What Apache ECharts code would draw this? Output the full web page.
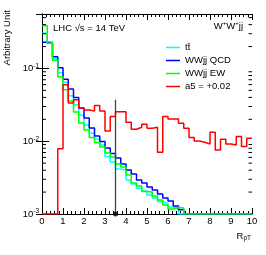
<!DOCTYPE html>
<html><head><meta charset="utf-8">
<script src="https://cdn.jsdelivr.net/npm/echarts@6/dist/echarts.min.js"></script>
<style>html,body{margin:0;padding:0;background:#fff}#c{width:266px;height:255px}</style>
</head><body><div id="c"></div>
<script>
// ---- data ----
const binLow = [0,0.25,0.5,0.75,1,1.25,1.5,1.75,2,2.25,2.5,2.75,3,3.25,3.5,3.75,4,4.25,4.5,4.75,
                5,5.25,5.5,5.75,6,6.25,6.5,6.75,7,7.25,7.5,7.75,8,8.25,8.5,8.75,9,9.25,9.5,9.75];
const binHigh = 10;
const seriesNames = ['t\u0074\u0304', 'WWjj QCD', 'WWjj EW', 'a5 = +0.02'];
// t tbar
const ttbar = [0.304,0.232,0.1355,0.087,0.0644,0.042,0.0316,0.023,0.01676,0.01301,
               0.01075,0.00889,0.00618,0.00519,0.00416,0.00403,0.00294,0.00259,0.00226,0.00207,
               0.00183,0.00166,0.00148,0.0014,0.00125,0.00118,0.001,0.001,0.001,0.001,
               0.001,0.001,0.001,0.001,0.001,0.001,0.001,0.001,0.001,0.001];
// WWjj QCD
const wwQCD = [0.2286,0.218,0.1444,0.1019,0.0708,0.0524,0.04,0.0287,0.0209,0.01524,
               0.01183,0.00994,0.00809,0.0068,0.00589,0.00487,0.00403,0.00355,0.00294,0.00267,
               0.00235,0.00214,0.00188,0.00166,0.00151,0.00129,0.00114,0.001,0.001,0.001,
               0.001,0.001,0.001,0.001,0.001,0.001,0.001,0.001,0.001,0.001];
// WWjj EW
const wwEW = [0.3855,0.2215,0.1292,0.0766,0.0508,0.0358,0.0253,0.01785,0.0143,0.01128,
              0.00963,0.00835,0.0069,0.00608,0.00487,0.00443,0.00344,0.00267,0.00243,0.00204,
              0.00201,0.00177,0.00156,0.00133,0.00117,0.00123,0.00121,0.001,0.001,0.001,
              0.001,0.001,0.001,0.001,0.001,0.001,0.001,0.001,0.001,0.001];
// a5 = +0.02
const a5 = [0.001,0.001,0.001,0.00791,0.0595,0.0336,0.037,0.0287,0.0269,0.0261,
            0.0309,0.0261,0.01386,0.0218,0.0255,0.0255,0.01825,0.01463,0.01558,0.01713,
            0.0151,0.01558,0.00706,0.0218,0.02026,0.02026,0.01769,0.0151,0.01121,0.0101,
            0.00969,0.00918,0.0133,0.00759,0.01065,0.00918,0.0089,0.01157,0.00843,0.011];
// vertical cut line
const cutX = 3.5;
const cutTop = 0.037;
// axis ticks
const yMin = 0.001, yMax = 0.56;
const xMin = 0, xMax = 10;
const yMinorTicks = [0.002,0.003,0.004,0.005,0.006,0.007,0.008,0.009,
                     0.02,0.03,0.04,0.05,0.06,0.07,0.08,0.09,
                     0.2,0.3,0.4,0.5];

const FONT = 'Liberation Sans, Arial, Helvetica, sans-serif';
const colors = ['#00ffff', '#0000ff', '#00ff00', '#ff0000'];
const allVals = [ttbar, wwQCD, wwEW, a5];

function steps(vals) {
  const d = vals.map((v, i) => [binLow[i], v]);
  d.push([binHigh, vals[vals.length - 1]]);
  return d;
}

const chart = echarts.init(document.getElementById('c'), null, {renderer: 'canvas'});

const histSeries = allVals.map((vals, k) => ({
  name: seriesNames[k],
  type: 'line',
  step: 'end',
  data: steps(vals),
  symbol: 'none',
  lineStyle: {color: colors[k], width: 1.5},
  itemStyle: {color: colors[k]},
  animation: false,
  z: 3 + k
}));

const option = {
  animation: false,
  backgroundColor: '#fff',
  grid: {left: 42, right: 14, top: 14, bottom: 41},
  xAxis: [{
    type: 'value', min: xMin, max: xMax, interval: 1,
    axisLine: {show: true, lineStyle: {color: '#000', width: 1}},
    axisTick: {show: true, inside: true, length: 6, lineStyle: {color: '#000'}},
    minorTick: {show: true, splitNumber: 5, length: 3, lineStyle: {color: '#000'}},
    splitLine: {show: false},
    axisLabel: {show: true, margin: 2, fontSize: 9.5, fontFamily: FONT, color: '#000'}
  }, {
    type: 'value', min: xMin, max: xMax, interval: 1, position: 'top',
    axisLine: {show: true, lineStyle: {color: '#000', width: 1}},
    axisTick: {show: true, inside: true, length: 6, lineStyle: {color: '#000'}},
    minorTick: {show: true, splitNumber: 5, length: 3, lineStyle: {color: '#000'}},
    splitLine: {show: false},
    axisLabel: {show: false}
  }],
  yAxis: [{
    type: 'log', logBase: 10, min: yMin, max: yMax,
    axisLine: {show: true, lineStyle: {color: '#000', width: 1}},
    axisTick: {show: true, inside: true, length: 7, lineStyle: {color: '#000'}},
    splitLine: {show: false},
    axisLabel: {
      show: true, margin: 3, showMaxLabel: false,
      formatter: function (v) {
        const e = Math.round(Math.log10(v));
        return '{a|10}{b|' + e + '}';
      },
      rich: {
        a: {fontSize: 9.5, fontFamily: FONT, color: '#000', lineHeight: 12},
        b: {fontSize: 6.5, fontFamily: FONT, color: '#000', lineHeight: 7, verticalAlign: 'top'}
      }
    }
  }, {
    type: 'log', logBase: 10, min: yMin, max: yMax, position: 'right',
    axisLine: {show: true, lineStyle: {color: '#000', width: 1}},
    axisTick: {show: true, inside: true, length: 6, lineStyle: {color: '#000'}},
    splitLine: {show: false},
    axisLabel: {show: false}
  }],
  legend: {
    data: seriesNames,
    icon: 'rect',
    orient: 'vertical', left: 161, top: 37,
    itemWidth: 14, itemHeight: 1.5, itemGap: 2,
    selectedMode: false,
    textStyle: {fontSize: 9.5, fontFamily: FONT, color: '#000', lineHeight: 11}
  },
  graphic: [
    {type: 'text', x: 7.5, y: 10, rotation: Math.PI / 2,
     style: {text: 'Arbitrary Unit', fontSize: 9.5, fontFamily: FONT, fill: '#000',
             align: 'right', verticalAlign: 'middle'}},
    {type: 'text', x: 53, y: 28,
     style: {text: 'LHC \u221As = 14 TeV', fontSize: 9.5, fontFamily: FONT, fill: '#000',
             align: 'left', verticalAlign: 'middle'}},
    {type: 'text', x: 243, y: 26,
     style: {text: '{a|W}{s|+}{a|W}{s|+}{a|jj}', align: 'right', verticalAlign: 'middle',
             rich: {a: {fontSize: 9.5, fontFamily: FONT, fill: '#000', lineHeight: 12},
                    s: {fontSize: 6, fontFamily: FONT, fill: '#000', lineHeight: 7, verticalAlign: 'top'}}}},
    {type: 'text', x: 251, y: 236,
     style: {text: '{a|R}{s|pT}', align: 'right', verticalAlign: 'middle',
             rich: {a: {fontSize: 9.5, fontFamily: FONT, fill: '#000', lineHeight: 12},
                    s: {fontSize: 6.5, fontFamily: FONT, fill: '#000', lineHeight: 7, verticalAlign: 'bottom'}}}}
  ],
  series: histSeries.concat([
    {
      name: 'cut', type: 'line', data: [[cutX, yMin], [cutX, cutTop]],
      symbol: 'none', lineStyle: {color: '#444', width: 1.3}, z: 8, silent: true
    },
    {
      name: 'cutPoint', type: 'scatter', data: [[cutX, yMin]], symbol: 'circle',
      symbolSize: 5, itemStyle: {color: '#000'}, clip: false, z: 9, silent: true
    },
    {
      name: 'minorTicks', type: 'custom', silent: true, clip: false, z: 10,
      data: yMinorTicks.map(v => [xMin, v]),
      encode: {x: 0, y: 1},
      renderItem: function (params, api) {
        const v = api.value(1);
        const l = api.coord([xMin, v]);
        const r = api.coord([xMax, v]);
        return {type: 'group', children: [
          {type: 'line', shape: {x1: l[0], y1: l[1], x2: l[0] + 4, y2: l[1]},
           style: {stroke: '#000', lineWidth: 1}},
          {type: 'line', shape: {x1: r[0], y1: r[1], x2: r[0] - 3.5, y2: r[1]},
           style: {stroke: '#000', lineWidth: 1}}
        ]};
      }
    }
  ])
};
chart.setOption(option);
</script>
</body></html>
